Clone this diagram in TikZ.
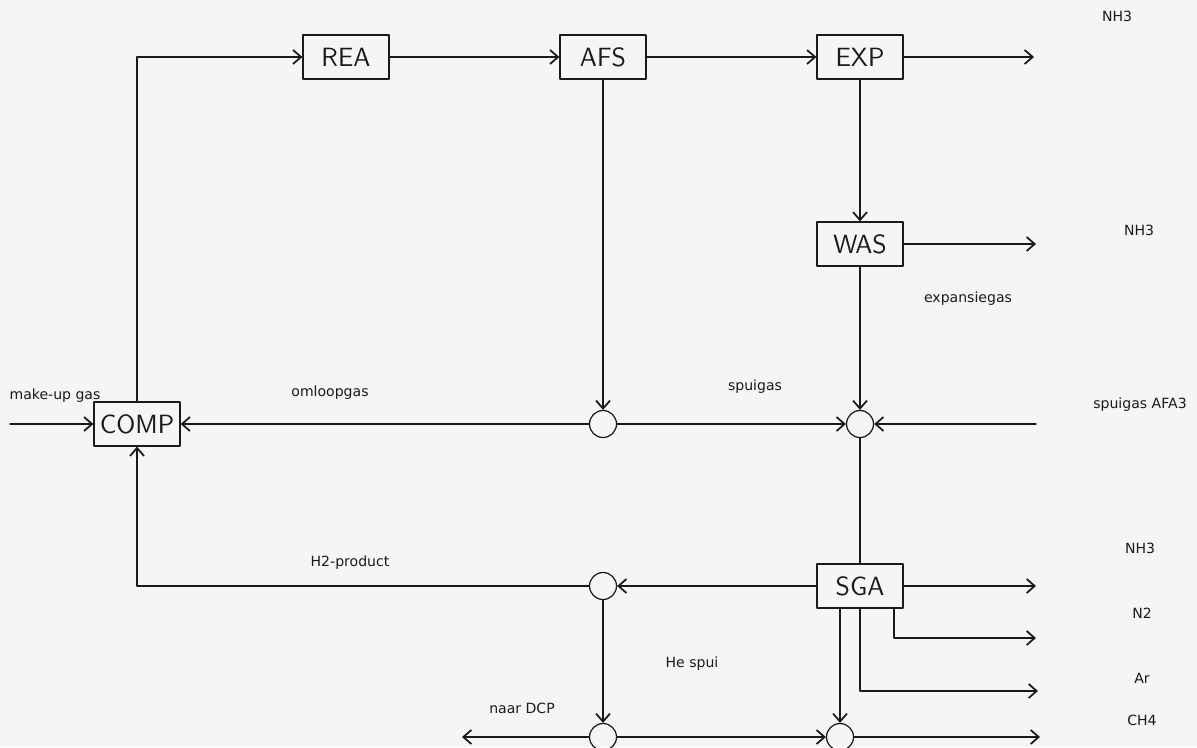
\documentclass[tikz,border=0pt]{standalone}
\usepackage{fontspec}
\usepackage{xcolor}
\usepackage{tikz}
\usetikzlibrary{arrows.meta,positioning,calc}
\newfontfamily\streamfont{DejaVu Sans}
\definecolor{paper}{HTML}{F5F5F5}
\definecolor{ink}{HTML}{1A1A1A}
\tikzset{
    every picture/.style={line cap=round,line join=round},
    unitbox/.style={draw=ink,fill=paper,line width=0.7pt,
      minimum width=17.2mm,minimum height=8.8mm,inner sep=1pt,
      font=\sffamily\fontsize{15}{17}\selectfont,text=ink},
    mixnode/.style={draw=ink,circle,line width=0.7pt,
      minimum size=5.4mm,inner sep=0pt},
    flowarrow/.style={-{Straight Barb[length=1.6mm,width=2.8mm,line width=1pt]},
      draw=ink,line width=0.7pt},
    flowline/.style={draw=ink,line width=0.7pt},
    streamlabel/.style={font=\streamfont\fontsize{8}{9.6}\selectfont,
      text=ink,inner sep=1pt}
}

\begin{document}
\begin{tikzpicture}[x=0.2mm,y=-0.2mm]
  \useasboundingbox (0,0) rectangle (1197,747);
  \fill[paper] (0,0) rectangle (1197,747);
  % process units
  \node[unitbox] (comp) at (137,424) {COMP};
  \node[unitbox] (rea) at (346,57) {REA};
  \node[unitbox] (afs) at (603,57) {AFS};
  \node[unitbox] (exp) at (860,57) {EXP};
  \node[unitbox] (was) at (860,244) {WAS};
  \node[unitbox] (sga) at (860,586) {SGA};
  % mixing / splitting points
  \node[mixnode] (msplit) at (603,424) {};
  \node[mixnode] (mpurge) at (860,424) {};
  \node[mixnode] (mhtwo) at (603,586) {};
  \node[mixnode] (mdcp) at (603,737) {};
  \node[mixnode] (mhe) at ([xshift=-4mm]sga.south |- mdcp) {};
  % free stream ends
  \coordinate (makeup) at (10,424);
  \coordinate (nhtop) at (1034,57);
  \coordinate (nhwas) at (1036,244);
  \coordinate (afathree) at (1036,424);
  \coordinate (nhsga) at (1036,586);
  \coordinate (ntwo) at (1036,638);
  \coordinate (argon) at (1038,691);
  \coordinate (methane) at (1040,737);
  \coordinate (dcp) at (462,737);
  % main loop
  \draw[flowarrow] (makeup) -- (comp.west);
  \draw[flowarrow] (comp.north) |- (rea.west);
  \draw[flowarrow] (rea) -- (afs);
  \draw[flowarrow] (afs) -- (exp);
  \draw[flowarrow] (exp.east) -- (nhtop);
  \draw[flowarrow] (afs.south) -- (msplit.north);
  \draw[flowarrow] (msplit.west) -- (comp.east);
  \draw[flowarrow] (msplit.east) -- (mpurge.west);
  \draw[flowarrow] (exp.south) -- (was.north);
  \draw[flowarrow] (was.east) -- (nhwas);
  \draw[flowarrow] (was.south) -- (mpurge.north);
  \draw[flowarrow] (afathree) -- (mpurge.east);
  \draw[flowline] (mpurge.south) -- (sga.north);
  % separation outlets
  \draw[flowarrow] (sga.east) -- (nhsga);
  \draw[flowarrow] ([xshift=6.8mm]sga.south) |- (ntwo);
  \draw[flowarrow] (sga.south) |- (argon);
  \draw[flowarrow] (sga.west) -- (mhtwo.east);
  \draw[flowarrow] (mhtwo.west) -| (comp.south);
  \draw[flowarrow] (mhtwo.south) -- (mdcp.north);
  \draw[flowarrow] (mdcp.west) -- (dcp);
  \draw[flowarrow] (mdcp.east) -- (mhe.west);
  \draw[flowarrow] ([xshift=-4mm]sga.south) -- (mhe.north);
  \draw[flowarrow] (mhe.east) -- (methane);
  % stream labels
  \node[streamlabel] (lmakeup) at (55,396) {make-up gas};
  \node[streamlabel] (lomloop) at (330,393) {omloopgas};
  \node[streamlabel] (lspui) at (755,387) {spuigas};
  \node[streamlabel] (lexpans) at (968,299) {expansiegas};
  \node[streamlabel] (lafa) at (1140,405) {spuigas AFA3};
  \node[streamlabel] (lnhtop) at (1117,16) {NH3};
  \node[streamlabel] (lnhwas) at (1139,230) {NH3};
  \node[streamlabel] (lnhsga) at (1140,548) {NH3};
  \node[streamlabel] (lntwo) at (1142,613) {N2};
  \node[streamlabel] (lar) at (1142,678) {Ar};
  \node[streamlabel] (lch) at (1142,720) {CH4};
  \node[streamlabel] (lhtwo) at (350,563) {H2-product};
  \node[streamlabel] (lhe) at (692,664) {He spui};
  \node[streamlabel] (ldcp) at (522,708) {naar DCP};
\end{tikzpicture}
\end{document}
